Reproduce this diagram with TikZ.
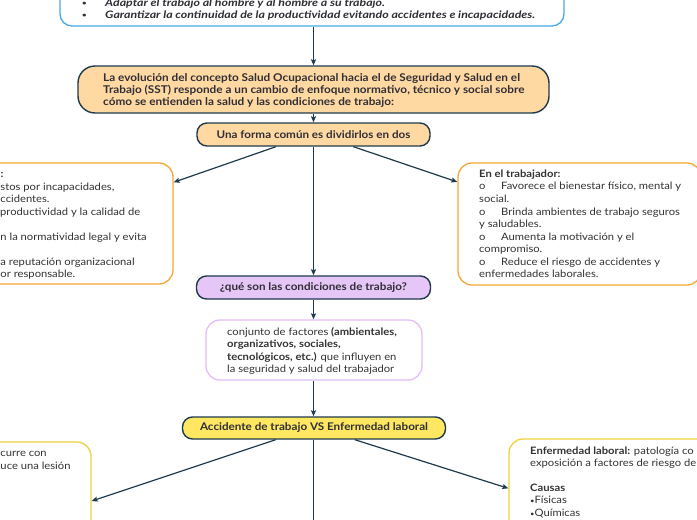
\documentclass[tikz,border=0pt]{standalone}
\usepackage{fontspec}
\setmainfont{Lato}[FakeStretch=1.1]
\newfontfamily\topfont{Lato}[FakeStretch=1.2]
\usetikzlibrary{arrows.meta}
\definecolor{navy}{HTML}{1E3A4C}
\definecolor{peach}{HTML}{FFD8A2}
\definecolor{lav}{HTML}{E6C5F7}
\definecolor{yel}{HTML}{FFE761}
\definecolor{topblue}{HTML}{47A9E6}
\definecolor{orng}{HTML}{F5A733}
\definecolor{lilac}{HTML}{E3BDF7}
\definecolor{yelO}{HTML}{EFD33E}
\definecolor{txt}{HTML}{333333}
\definecolor{hdtxt}{HTML}{2F2F35}
\tikzset{
  navybox/.style={draw=navy, line width=1.4pt, inner sep=0pt},
  outbox/.style={fill=white, line width=1.3pt, inner sep=0pt, rounded corners=14pt},
  arr/.style={draw=navy, line width=1.2pt, -{Stealth[length=6pt,width=5pt,inset=1pt]}},
  body/.style={font=\fontsize{10.2}{12}\selectfont, text=txt, inner sep=0pt, anchor=base west},
  bodyb/.style={body, font=\bfseries\fontsize{10.2}{12}\selectfont},
  hd/.style={font=\bfseries\fontsize{10.6}{12}\selectfont, text=hdtxt},
  evohd/.style={font=\bfseries\fontsize{10.7}{12}\selectfont, text=hdtxt, inner sep=0pt, anchor=base west},
  tophd/.style={font=\topfont\bfseries\itshape\fontsize{10.3}{12}\selectfont, text=hdtxt, inner sep=0pt, anchor=base west},
  dotb/.style={font=\topfont\bfseries\fontsize{6.5}{8}\selectfont, text=hdtxt, inner sep=0pt, anchor=base west},
}
\begin{document}
\begin{tikzpicture}[x=1pt,y=-1pt]
\clip (0,0) rectangle (697,520);
\fill[white] (0,0) rectangle (697,520);
% boxes
\node[outbox, draw=topblue, rounded corners=12pt, minimum width=504pt, minimum height=66pt] (top) at (312,-7) {};
\node[navybox, fill=peach, rounded corners=17pt, minimum width=471pt, minimum height=47pt] (evo) at (313.5,89.5) {};
\node[navybox, fill=peach, rounded corners=10pt, minimum width=233pt, minimum height=23pt, hd] (forma) at (313.5,134.5) {Una forma común es dividirlos en dos};
\node[outbox, draw=orng, minimum width=193pt, minimum height=121pt] (leftO) at (76.5,223.5) {};
\node[outbox, draw=orng, minimum width=243pt, minimum height=122pt] (rightO) at (579.5,224) {};
\node[navybox, fill=lav, rounded corners=10pt, minimum width=234pt, minimum height=23pt, hd] (cond) at (313.5,287.5) {¿qué son las condiciones de trabajo?};
\node[outbox, draw=lilac, minimum width=216pt, minimum height=60pt] (conj) at (314,350) {};
\node[navybox, fill=yel, rounded corners=10pt, minimum width=263pt, minimum height=22pt, hd] (acc) at (314,428) {Accidente de trabajo VS Enfermedad laboral};
\node[outbox, draw=yelO, minimum width=111pt, minimum height=118pt] (leftY) at (35.5,501) {};
\node[outbox, draw=yelO, minimum width=211pt, minimum height=121pt] (rightY) at (614.5,499.5) {};
\coordinate (bot) at (313.5,530);
% top box text
\node[dotb] (tb1) at (82,5.5) {•};
\node[tophd] (tt1) at (105,6.5) {Adaptar el trabajo al hombre y al hombre a su trabajo.};
\node[dotb] (tb2) at (82,17.5) {•};
\node[tophd] (tt2) at (105,18.5) {Garantizar la continuidad de la productividad evitando accidentes e incapacidades.};
% evo text
\node[evohd] (e1) at (103,81.2) {La evolución del concepto Salud Ocupacional hacia el de Seguridad y Salud en el};
\node[evohd] (e2) at (103,93.4) {Trabajo (SST) responde a un cambio de enfoque normativo, técnico y social sobre};
\node[evohd] (e3) at (103,105.6) {cómo se entienden la salud y las condiciones de trabajo:};
% left orange text (cut by the page edge)
\node[bodyb] (l0) at (0.5,177.5) {:};
\node[body] (l1) at (0.3,190) {stos por incapacidades,};
\node[body] (l2) at (0.3,202.6) {ccidentes.};
\node[body] (l3) at (0,215.2) {productividad y la calidad de};
\node[body] (l5) at (0.3,240.3) {n la normatividad legal y evita};
\node[body] (l7) at (0.3,265.4) {a reputación organizacional};
\node[body] (l8) at (0.3,277.9) {or responsable.};
% right orange text
\node[bodyb] (r0) at (479,177.3) {En el trabajador:};
\node[body] (r1o) at (479,189.9) {o};
\node[body] (r1) at (501,189.9) {Favorece el bienestar físico, mental y};
\node[body] (r2) at (479,202.4) {social.};
\node[body] (r3o) at (479,215) {o};
\node[body] (r3) at (501,215) {Brinda ambientes de trabajo seguros};
\node[body] (r4) at (479,227.5) {y saludables.};
\node[body] (r5o) at (479,240.1) {o};
\node[body] (r5) at (501,240.1) {Aumenta la motivación y el};
\node[body] (r6) at (479,252.6) {compromiso.};
\node[body] (r7o) at (479,265.2) {o};
\node[body] (r7) at (501,265.2) {Reduce el riesgo de accidentes y};
\node[body] (r8) at (479,277.7) {enfermedades laborales.};
% conjunto text
\node[body] (c1) at (227,335.2) {conjunto de factores \textbf{(ambientales,}};
\node[body] (c2) at (227,347.6) {\textbf{organizativos, sociales,}};
\node[body] (c3) at (227,360) {\textbf{tecnológicos, etc.)} que influyen en};
\node[body] (c4) at (227,372.4) {la seguridad y salud del trabajador};
% left yellow text
\node[body] (y1) at (0.3,456.3) {curre con};
\node[body] (y2) at (0.3,469) {uce una lesión};
% right yellow text
\node[body] (z1) at (530,454) {\textbf{Enfermedad laboral:} patología co};
\node[body] (z2) at (530,466.4) {exposición a factores de riesgo de};
\node[bodyb] (z3) at (530,491.2) {Causas};
\node[body] (z4) at (530,503.6) {{\fontsize{7}{8}\selectfont •}Físicas};
\node[body] (z5) at (530,516) {{\fontsize{7}{8}\selectfont •}Químicas};
% connectors
\draw[arr] (evo.north |- top.south) -- (evo.north);
\draw[arr] (evo.south) -- (forma.north);
\draw[arr] (forma.-162.5) -- (leftO.23.8);
\draw[arr] (forma.south) -- (cond.north);
\draw[arr] (forma.-17.5) -- (rightO.161.4);
\draw[arr] (cond.south) -- (conj.north -| cond.south);
\draw[arr] (conj.south -| cond.south) -- (acc.north -| cond.south);
\draw[arr] (acc.-163.2) -- (leftY.east);
\draw[arr] (acc.south -| cond.south) -- (bot);
\draw[arr] (acc.-16.8) -- (rightY.174.3);
\end{tikzpicture}
\end{document}
